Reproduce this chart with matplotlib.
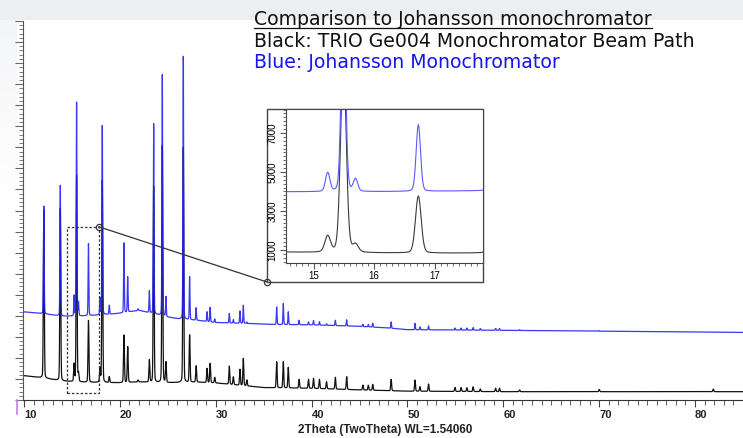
import numpy as np
import matplotlib
matplotlib.use("Agg")
import matplotlib.pyplot as plt
from matplotlib.patches import Rectangle, ConnectionPatch
from matplotlib.lines import Line2D
from matplotlib.ticker import MultipleLocator, FixedLocator

W, H = 743, 438

# Johansson monochromator: peak positions (2theta) and apex counts
blue_pos = [12.07, 13.79, 15.23, 15.49, 15.69, 16.73, 17.93, 18.17, 18.90, 20.43,
            20.82, 21.90, 23.08, 23.53, 24.43, 24.81, 26.62, 27.28, 27.96, 29.10,
            29.42, 29.90, 31.42, 31.84, 32.53, 32.88, 33.25, 36.36, 37.05, 37.57,
            38.70, 39.68, 40.20, 40.82, 41.56, 42.48, 43.66, 45.35, 45.92, 46.38,
            48.30, 50.79, 51.30, 52.20, 54.96, 55.60, 56.20, 56.85, 57.60, 59.20,
            59.60, 61.70, 70.00]
blue_top = [9210, 10190, 4950, 14140, 4620, 7430, 4850, 13035, 4500, 7460,
            5850, 4330, 5180, 13115, 15450, 4900, 16320, 5850, 4380, 4190,
            4400, 3850, 4110, 3820, 4230, 4500, 3700, 4420, 4580, 4190,
            3790, 3710, 3770, 3720, 3620, 3790, 3810, 3590, 3590, 3650,
            3710, 3640, 3470, 3520, 3420, 3420, 3420, 3440, 3400, 3400,
            3400, 3340, 3300]

# TRIO Ge004 beam path: peak positions (2theta) and apex counts
black_pos = [12.07, 13.79, 15.23, 15.49, 15.69, 16.73, 17.93, 18.17, 18.90, 20.43,
             20.82, 21.90, 23.08, 23.53, 24.43, 24.81, 26.62, 27.28, 27.96, 29.10,
             29.42, 29.90, 31.42, 31.84, 32.53, 32.88, 33.25, 36.36, 37.05, 37.57,
             38.70, 39.68, 40.20, 40.82, 41.56, 42.48, 43.66, 45.35, 45.92, 46.38,
             48.30, 50.79, 51.30, 52.20, 54.96, 55.60, 56.20, 56.85, 57.60, 59.20,
             59.60, 61.70, 70.00, 81.90]
black_top = [9000, 9100, 1690, 10665, 1250, 3770, 1500, 10430, 1105, 3080,
             2530, 950, 1900, 10140, 12090, 1785, 12000, 3080, 1620, 1500,
             1740, 1075, 1610, 1100, 1455, 1975, 950, 1815, 1815, 1550,
             980, 980, 1030, 980, 870, 1075, 1105, 710, 700, 742,
             980, 948, 630, 758, 600, 590, 580, 630, 520, 560,
             560, 480, 500, 520]

# background levels
blue_bg_x = [9.9, 12, 14, 16, 18, 20, 22, 23, 25, 26, 28, 30, 33, 36, 40, 45, 48, 50, 60, 70, 85]
blue_bg_y = [4190, 4100, 3980, 3990, 4040, 4120, 4260, 4150, 3940, 3860, 3790, 3680, 3640,
             3590, 3570, 3500, 3420, 3340, 3310, 3270, 3210]
black_bg_x = [9.9, 12, 14, 16, 18, 20, 22, 25, 28, 30, 33, 35, 40, 45, 50, 60, 85]
black_bg_y = [1160, 1050, 900, 850, 830, 820, 860, 820, 850, 810, 680, 590, 555, 480, 420, 395, 395]

tt = np.arange(9.9, 85.05, 0.01)


def pattern(pos, top, bg_x, bg_y, fwhm, eta=0.15):
    y = np.interp(tt, bg_x, bg_y)
    for p, t in zip(pos, top):
        amp = t - np.interp(p, bg_x, bg_y)
        d = (tt - p) / (fwhm / 2)
        y = y + amp * ((1 - eta) * np.exp(-np.log(2) * d ** 2) + eta / (1 + d ** 2))
    return y


blue = pattern(blue_pos, blue_top, blue_bg_x, blue_bg_y, 0.085)
black = pattern(black_pos, black_top, black_bg_x, black_bg_y, 0.11)


def fx(px):
    return px / W


def fy(py):
    return 1 - py / H


fig = plt.figure(figsize=(W / 100, H / 100), dpi=100)

# grey header band and faint left margin
bg = np.ones((H, W, 3))
bg[:20, :, :] = np.array([236, 238, 241]) / 255
fade = np.clip(1 - np.arange(20, H) / 200.0, 0, 1)[:, None]
bg[20:, :17, :] = 1 - fade[:, :, None] * (1 - np.array([243, 244, 246]) / 255)
fig.figimage(bg, xo=0, yo=0, origin="upper", zorder=-1)

ax = fig.add_axes([fx(23), fy(400), fx(743) - fx(23), fy(21) - fy(400)])
ax.set_facecolor("none")
ax.plot(tt, black, color="#111111", lw=0.9)
ax.plot(tt, blue, color="#2222f4", lw=0.9, alpha=0.9)
ax.set_xlim(9.9, 85.0)
ax.set_ylim(0, 18000)
for s in ("top", "right"):
    ax.spines[s].set_visible(False)
ax.spines["left"].set_color("#555555")
ax.spines["bottom"].set_color("#333333")
ax.xaxis.set_major_locator(MultipleLocator(10))
ax.xaxis.set_minor_locator(MultipleLocator(1))
ax.yaxis.set_major_locator(MultipleLocator(1000))
ax.yaxis.set_minor_locator(MultipleLocator(200))
ax.tick_params(axis="y", which="both", direction="out", labelleft=False, color="#666666")
ax.tick_params(axis="y", which="major", length=6)
ax.tick_params(axis="y", which="minor", length=3)
ax.tick_params(axis="x", which="both", direction="out", color="#444444", pad=2)
ax.tick_params(axis="x", which="major", length=5)
ax.tick_params(axis="x", which="minor", length=3.5)
for lab in ax.get_xticklabels():
    lab.set_fontfamily("Liberation Sans")
    lab.set_fontweight("bold")
    lab.set_fontsize(8)
    lab.set_color("#222222")
    lab.set_horizontalalignment("left")

fig.text(fx(385.5), fy(430.5), "2Theta (TwoTheta) WL=1.54060", ha="center", va="center",
         family="Liberation Sans", weight="bold", fontsize=8.5, color="#222222")

# zoom region
x0, x1, y0, y1 = 14.54, 17.8, 333, 8230
ax.add_patch(Rectangle((x0, y0), x1 - x0, y1 - y0, fill=False, ec="#333333",
                       lw=0.9, ls=(0, (2, 1.5)), zorder=5))
ax.plot([x1], [y1], "o", mfc="none", mec="#333333", ms=4.5, mew=0.9, zorder=6)

frame = Rectangle((fx(267), fy(282)), fx(483) - fx(267), fy(109) - fy(282),
                  transform=fig.transFigure, fc="white", ec="#444444", lw=1, zorder=2)
fig.add_artist(frame)

axin = fig.add_axes([fx(286), fy(263), fx(483) - fx(286), fy(109) - fy(263)], zorder=3)
m = (tt >= x0 - 0.1) & (tt <= x1 + 0.1)
axin.plot(tt[m], black[m], color="#3a3a3a", lw=0.8)
axin.plot(tt[m], blue[m], color="#5a5aff", lw=0.8)
axin.set_xlim(x0, x1)
axin.set_ylim(y0, y1)
for s in axin.spines.values():
    s.set_color("#444444")
axin.xaxis.set_major_locator(FixedLocator([15, 16, 17]))
axin.xaxis.set_minor_locator(MultipleLocator(0.1))
axin.yaxis.set_major_locator(FixedLocator([1000, 3000, 5000, 7000]))
axin.yaxis.set_minor_locator(MultipleLocator(200))
axin.tick_params(which="both", direction="out", color="#555555", labelsize=7, pad=2)
axin.tick_params(which="major", length=4)
axin.tick_params(which="minor", length=2.5)
for lab in axin.get_xticklabels() + axin.get_yticklabels():
    lab.set_fontfamily("Liberation Sans")
for lab in axin.get_yticklabels():
    lab.set_rotation(90)
    lab.set_verticalalignment("center")

con = ConnectionPatch(xyA=(x1, y1), coordsA=ax.transData,
                      xyB=(fx(267), fy(282)), coordsB=fig.transFigure,
                      color="#333333", lw=0.9, zorder=4)
fig.add_artist(con)
fig.add_artist(Line2D([fx(267)], [fy(282)], marker="o", mfc="none", mec="#333333",
                      ms=4.5, mew=0.9, transform=fig.transFigure, zorder=5))

# small marker on the left edge
fig.add_artist(Line2D([fx(16.5), fx(16.5)], [fy(400), fy(414)], color="#c080f0",
                      lw=1.2, transform=fig.transFigure))

# header
t1 = fig.text(fx(254), fy(25), "Comparison to Johansson monochromator", fontsize=13.6,
              family="DejaVu Sans", color="#111111", va="baseline")
fig.text(fx(254), fy(47), "Black: TRIO Ge004 Monochromator Beam Path", fontsize=13.6,
         family="DejaVu Sans", color="#111111", va="baseline")
fig.text(fx(254), fy(68), "Blue: Johansson Monochromator", fontsize=13.6,
         family="DejaVu Sans", color="#1515ee", va="baseline")

fig.canvas.draw()
bb = t1.get_window_extent().transformed(fig.transFigure.inverted())
fig.add_artist(Line2D([bb.x0, bb.x1], [fy(27.5), fy(27.5)], color="#111111", lw=0.9,
                      transform=fig.transFigure))

fig.savefig("out.png", dpi=100)
